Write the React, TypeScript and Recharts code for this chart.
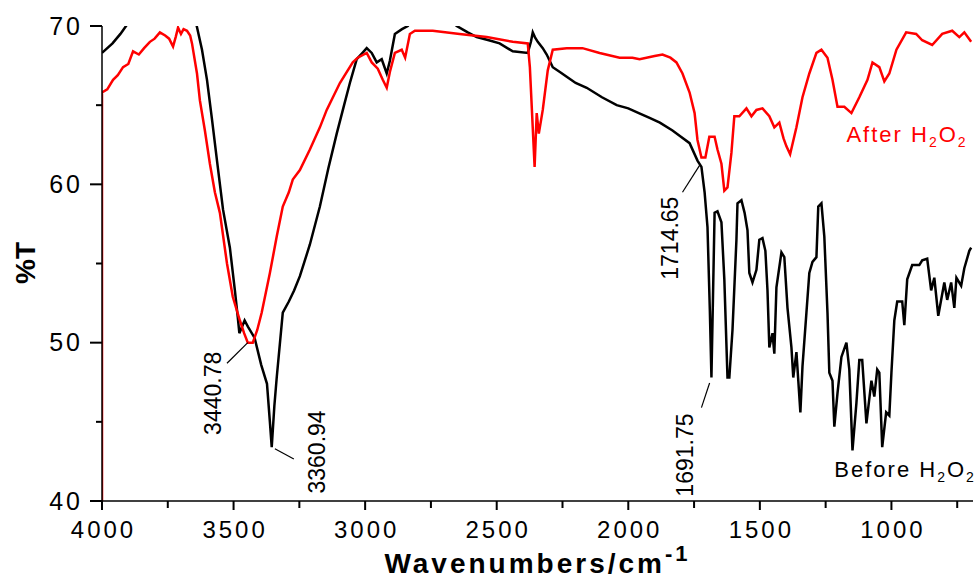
import {
  LineChart,
  Line,
  XAxis,
  YAxis,
  Label,
  ReferenceLine,
  ReferenceDot,
} from 'recharts';

// FTIR spectra, %T vs wavenumber (cm-1)
const beforeWn = [
  4000, 3960, 3930, 3900, 3860, 3800, 3700, 3660, 3640, 3620, 3601, 3582, 3563, 3540, 3514, 3495,
  3484, 3478, 3458, 3445, 3420, 3395, 3373, 3362, 3355, 3345, 3336, 3313, 3290, 3270, 3248, 3210,
  3172, 3140, 3108, 3080, 3058, 3032, 3010, 2994, 2975, 2956, 2937, 2918, 2906, 2887, 2860, 2838,
  2800, 2700, 2652, 2610, 2576, 2530, 2489, 2439, 2382, 2370, 2363, 2355, 2344, 2325, 2310, 2287,
  2260, 2234, 2200, 2158, 2100, 2044, 2000, 1960, 1919, 1880, 1832, 1800, 1767, 1737, 1722, 1710,
  1699, 1690, 1684, 1678, 1672, 1661, 1646, 1635, 1623, 1616, 1604, 1589, 1585, 1570, 1558, 1547,
  1540, 1528, 1513, 1502, 1490, 1479, 1471, 1464, 1452, 1445, 1437, 1418, 1407, 1395, 1380, 1373,
  1361, 1346, 1338, 1323, 1312, 1300, 1285, 1278, 1266, 1255, 1243, 1236, 1224, 1217, 1205, 1190,
  1171, 1160, 1148, 1133, 1122, 1111, 1095, 1076, 1065, 1054, 1046, 1035, 1020, 1008, 1000, 989,
  978, 959, 951, 940, 921, 894, 883, 864, 849, 837, 822, 799, 788, 773, 761, 753, 735, 723, 704, 697,
];
const beforeT = [
  68.3, 68.9, 69.5, 70.2, 70.8, 71.5, 71.5, 70.8, 70.0, 68.5, 66.6, 64.1, 61.5, 58.4, 56.0, 53.3,
  51.6, 50.6, 51.4, 51.0, 50.3, 48.6, 47.4, 45.0, 43.4, 46.0, 47.8, 51.9, 52.6, 53.3, 54.2, 56.2,
  58.6, 61.0, 63.2, 65.0, 66.4, 67.9, 68.3, 68.6, 68.3, 67.7, 67.9, 67.0, 67.8, 69.5, 69.8, 70.0,
  70.8, 70.8, 70.0, 69.6, 69.3, 69.1, 68.9, 68.4, 68.3, 69.0, 69.6, 69.3, 69.0, 68.6, 68.2, 67.4,
  67.1, 66.8, 66.4, 66.1, 65.5, 65.0, 64.8, 64.5, 64.2, 63.9, 63.4, 63.0, 62.6, 61.5, 61.1, 59.5,
  57.3, 52.0, 47.8, 53.0, 58.2, 58.3, 57.6, 54.0, 47.8, 47.8, 50.8, 56.5, 58.8, 59.0, 58.2, 57.1,
  54.4, 53.8, 54.6, 56.5, 56.6, 55.8, 53.3, 49.7, 50.6, 49.3, 53.5, 55.7, 55.4, 52.2, 49.7, 47.8,
  49.4, 45.6, 48.5, 51.9, 54.4, 55.1, 55.4, 58.6, 58.8, 56.7, 51.9, 48.1, 47.6, 44.7, 46.8, 49.1,
  50.0, 48.3, 43.2, 46.2, 48.9, 48.9, 44.9, 47.6, 46.6, 48.3, 48.1, 43.4, 45.6, 45.4, 48.1, 51.4,
  52.6, 52.6, 51.1, 54.0, 54.9, 54.9, 55.2, 55.3, 53.3, 54.1, 51.7, 53.8, 52.7, 53.8, 52.2, 54.1, 53.6, 54.7, 55.8, 56.0,
];

const afterWn = [
  4000, 4000, 3980, 3958, 3940, 3920, 3900, 3882, 3860, 3840, 3818, 3800, 3780, 3760, 3745, 3730,
  3720, 3711, 3700, 3690, 3677, 3665, 3658, 3639, 3628, 3609, 3590, 3571, 3552, 3525, 3503, 3476,
  3460, 3446, 3427, 3410, 3393, 3362, 3336, 3313, 3290, 3275, 3248, 3210, 3172, 3146, 3096, 3047,
  3028, 2994, 2975, 2952, 2933, 2918, 2906, 2887, 2861, 2848, 2830, 2811, 2743, 2641, 2538, 2439,
  2382, 2374, 2356, 2348, 2340, 2325, 2306, 2287, 2234, 2174, 2109, 2033, 1984, 1957, 1900, 1870,
  1840, 1817, 1794, 1767, 1748, 1737, 1722, 1707, 1692, 1672, 1661, 1646, 1635, 1623, 1608, 1597,
  1578, 1551, 1532, 1513, 1490, 1464, 1445, 1426, 1410, 1399, 1385, 1361, 1338, 1312, 1285, 1266,
  1243, 1224, 1205, 1179, 1152, 1122, 1091, 1072, 1046, 1027, 1008, 981, 944, 906, 883, 845, 807,
  769, 742, 723, 697,
];
const afterT = [
  40.0, 65.8, 66.0, 66.6, 66.9, 67.4, 67.6, 68.4, 68.2, 68.6, 69.0, 69.2, 69.6, 69.4, 69.2, 68.7,
  69.3, 69.9, 69.5, 69.8, 69.7, 69.4, 68.9, 67.0, 65.3, 63.4, 61.3, 59.5, 58.2, 55.0, 52.9, 51.4,
  50.6, 50.0, 50.0, 50.8, 51.9, 54.4, 56.7, 58.6, 59.5, 60.3, 60.9, 62.2, 63.6, 64.7, 66.4, 67.7,
  68.0, 68.3, 67.7, 67.3, 66.6, 66.1, 67.1, 68.3, 68.5, 68.0, 69.5, 69.7, 69.7, 69.5, 69.3, 69.0,
  68.9, 67.4, 61.1, 64.5, 63.2, 64.7, 67.2, 68.5, 68.6, 68.6, 68.3, 68.0, 68.0, 67.9, 68.1, 68.2,
  68.0, 67.7, 67.0, 65.8, 64.5, 62.8, 61.7, 61.7, 63.0, 63.0, 62.2, 61.3, 59.6, 59.8, 62.0, 64.3,
  64.3, 64.8, 64.3, 64.7, 64.8, 64.3, 63.6, 63.9, 62.9, 62.4, 61.9, 63.6, 65.5, 67.0, 68.3, 68.5,
  68.0, 66.6, 64.9, 64.9, 64.5, 65.5, 66.6, 67.7, 67.4, 66.5, 67.0, 68.5, 69.6, 69.5, 69.1, 68.8, 69.5,
  69.7, 69.3, 69.6, 69.0,
];

const xTicks = [4000, 3750, 3500, 3250, 3000, 2750, 2500, 2250, 2000, 1750, 1500, 1250, 1000, 750];
const yTicks = [40, 45, 50, 55, 60, 65, 70];

// peak annotations: label, label anchor, leader line ends
const peakNames = ['3440.78', '3360.94', '1714.65', '1691.75'];
const peakTextWn = [3579, 3184, 1843, 1786];
const peakTextT = [46.8, 43.1, 56.6, 42.9];
const leaderFrom = [[3525, 48.7], [3343, 43.3], [1794, 59.5], [1722, 45.9]];
const leaderTo = [[3446, 50.0], [3271, 42.65], [1729, 61.2], [1691, 47.45]];

const beforeData = beforeWn.map((w, i) => ({ wn: w, t: beforeT[i] }));
const afterData = afterWn.map((w, i) => ({ wn: w, t: afterT[i] }));

const FONT = '"Liberation Sans", Arial, sans-serif';

const XTick = (props: any) => {
  const { x, y, payload } = props;
  const major = payload.value % 500 === 0;
  return (
    <g>
      <rect x={x - 1} y={y} width={2} height={major ? 9 : 7} fill="#000" />
      {major && (
        <text x={x + 1.5} y={y + 37} textAnchor="middle" fontFamily={FONT} fontSize={24}
          style={{ letterSpacing: 3 }} fill="#000">
          {payload.value}
        </text>
      )}
    </g>
  );
};

const YTick = (props: any) => {
  const { x, y, payload } = props;
  const major = payload.value % 10 === 0;
  const len = major ? 12 : 6;
  return (
    <g>
      <rect x={x - len} y={y - 1} width={len} height={2} fill="#000" />
      {major && (
        <text x={x - 19} y={y + 8.5} textAnchor="end" fontFamily={FONT} fontSize={25}
          style={{ letterSpacing: 3 }} fill="#000">
          {payload.value}
        </text>
      )}
    </g>
  );
};

const XTitle = (props: any) => {
  const { viewBox } = props;
  const cx = viewBox.x + viewBox.width / 2;
  return (
    <text x={cx} y={viewBox.y + 72} textAnchor="middle" fontFamily={FONT} fontSize={28}
      fontWeight="bold" style={{ letterSpacing: 3 }} fill="#000">
      Wavenumbers/cm
      <tspan dy={-12} fontSize={22}>-1</tspan>
    </text>
  );
};

const YTitle = () => (
  <text x={0} y={0} transform="translate(35 263) rotate(-90)" textAnchor="middle"
    fontFamily={FONT} fontSize={28} fontWeight="bold" fill="#000">
    %T
  </text>
);

const PeakText = (text: string) => (props: any) => {
  const { cx, cy } = props;
  return (
    <text x={cx} y={cy} transform={`rotate(-90 ${cx} ${cy})`} textAnchor="middle"
      dominantBaseline="central" fontFamily={FONT} fontSize={23} fill="#000">
      {text}
    </text>
  );
};

const SeriesText = (name: string, color: string) => (props: any) => {
  const { cx, cy } = props;
  return (
    <text x={cx} y={cy} fontFamily={FONT} fontSize={22} fill={color} style={{ letterSpacing: 2 }}>
      {name} H
      <tspan dy={5} fontSize={14}>2</tspan>
      <tspan dy={-5}>O</tspan>
      <tspan dy={5} fontSize={14}>2</tspan>
    </text>
  );
};

export default function App() {
  return (
    <div style={{ position: 'absolute', left: 0, top: 0, width: 980, height: 579, background: '#fff' }}>
      <LineChart width={980} height={579} margin={{ top: 26, right: 7, bottom: 0, left: 0 }}>
        <XAxis
          dataKey="wn"
          type="number"
          domain={[690, 4000]}
          reversed
          allowDataOverflow
          ticks={xTicks}
          interval={0}
          tickSize={0}
          tickMargin={0}
          tickLine={false}
          tick={<XTick />}
          height={78}
          axisLine={{ stroke: '#000', strokeWidth: 1.5 }}
        >
          <Label content={<XTitle />} />
        </XAxis>
        <YAxis
          dataKey="t"
          type="number"
          domain={[40, 70]}
          allowDataOverflow
          ticks={yTicks}
          interval={0}
          tickSize={0}
          tickMargin={0}
          tickLine={false}
          tick={<YTick />}
          width={102}
          axisLine={{ stroke: '#000', strokeWidth: 1.5 }}
        >
          <Label content={<YTitle />} />
        </YAxis>
        <Line data={beforeData} dataKey="t" type="linear" stroke="#000000" strokeWidth={2.5}
          dot={false} isAnimationActive={false} />
        <Line data={afterData} dataKey="t" type="linear" stroke="#ff0000" strokeWidth={2.5}
          dot={false} isAnimationActive={false} />
        {peakNames.map((p, i) => (
          <ReferenceLine key={'l' + p}
            segment={[{ x: leaderFrom[i][0], y: leaderFrom[i][1] }, { x: leaderTo[i][0], y: leaderTo[i][1] }]}
            stroke="#000" strokeWidth={1.2} ifOverflow="visible" />
        ))}
        {peakNames.map((p, i) => (
          <ReferenceDot key={'t' + p} x={peakTextWn[i]} y={peakTextT[i]} r={0}
            ifOverflow="visible" shape={PeakText(p)} />
        ))}
        <ReferenceDot x={1171} y={62.67} r={0} ifOverflow="visible" shape={SeriesText('After', '#ff0000')} />
        <ReferenceDot x={1217} y={41.5} r={0} ifOverflow="visible" shape={SeriesText('Before', '#000000')} />
      </LineChart>
    </div>
  );
}
